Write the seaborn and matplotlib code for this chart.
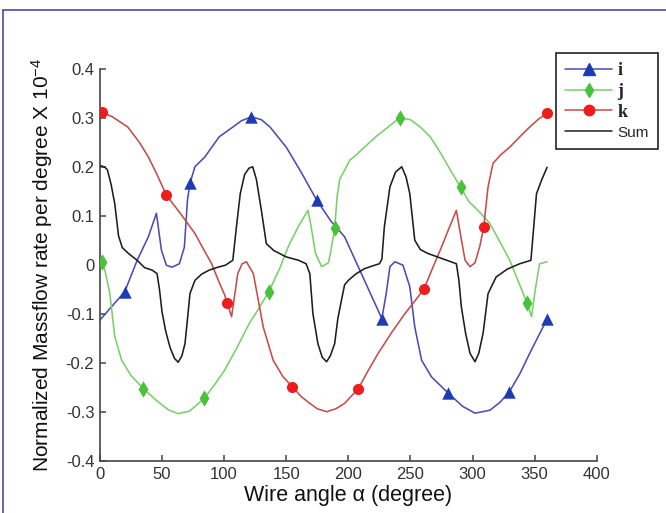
import matplotlib
matplotlib.use("Agg")
import matplotlib.pyplot as plt
from matplotlib.lines import Line2D
import pandas as pd
import seaborn as sns

# Normalized mass-flow rate per degree (x 1e-4) versus wire angle, for the
# three wire components i, j, k and their sum.
i_angle = [0, 10, 20, 30, 39, 45.5, 49.5, 53.5, 58, 64, 68, 70.5, 72.5, 76.5,
           84.5, 96, 107, 114, 122, 130, 137, 150, 162, 174.5, 186, 197, 210.5,
           220, 227, 230.5, 233.5, 237.5, 244, 249.5, 253.5, 259, 267, 280, 292,
           302, 314, 322, 329.5, 338, 346, 354, 360]
i_value = [-0.112, -0.083, -0.054, 0.010, 0.058, 0.106, 0.031, 0.000, -0.004,
           0.003, 0.037, 0.133, 0.167, 0.201, 0.221, 0.262, 0.282, 0.295, 0.303,
           0.297, 0.282, 0.241, 0.190, 0.133, 0.090, 0.058, -0.017, -0.070,
           -0.109, -0.058, -0.003, 0.007, 0.000, -0.044, -0.126, -0.194, -0.228,
           -0.260, -0.288, -0.302, -0.296, -0.280, -0.259, -0.222, -0.180,
           -0.140, -0.110]
i_marks = [20, 72.5, 122, 174.5, 227, 280, 329.5, 360]

j_angle = [0, 1.5, 4, 8, 12, 17.5, 25, 35, 45, 55, 63, 72, 84, 92, 100.5, 110,
           120, 128, 136, 145, 152, 160, 167.5, 170, 173.5, 178.5, 184, 186, 189,
           191, 193, 197, 201, 205, 213, 222, 232, 241.5, 250, 258, 266, 274,
           282, 290.5, 297, 302, 308, 314, 322, 330, 338, 344, 347.5, 350.5,
           354, 360]
j_value = [0.005, 0.007, -0.010, -0.058, -0.146, -0.194, -0.225, -0.252, -0.275,
           -0.295, -0.303, -0.298, -0.272, -0.245, -0.214, -0.170, -0.120,
           -0.088, -0.054, -0.005, 0.040, 0.080, 0.112, 0.080, 0.025, -0.003,
           0.005, 0.030, 0.075, 0.140, 0.175, 0.194, 0.214, 0.222, 0.241, 0.262,
           0.282, 0.301, 0.297, 0.282, 0.262, 0.230, 0.195, 0.159, 0.130, 0.118,
           0.102, 0.085, 0.048, 0.010, -0.040, -0.078, -0.105, -0.050, 0.003,
           0.007]
j_marks = [1.5, 35, 84, 136, 189, 241.5, 290.5, 344]

k_angle = [0, 2, 10, 22.5, 32, 39, 46, 53.5, 65, 76.5, 84, 90, 96, 100.5, 102.5,
           106, 111, 114.5, 118, 123.5, 127.5, 131.5, 139.5, 147.5, 155, 162,
           169, 175, 182.5, 190, 197, 208, 216, 224, 235, 245.5, 253, 261, 268,
           275, 281, 287, 290.5, 294, 298, 302, 306, 309, 312.5, 316.5, 323, 330,
           338, 346, 353, 360]
k_value = [0.312, 0.312, 0.303, 0.282, 0.250, 0.221, 0.185, 0.143, 0.105, 0.065,
           0.030, 0.003, -0.035, -0.061, -0.078, -0.105, -0.017, 0.003, 0.007,
           -0.017, -0.071, -0.126, -0.194, -0.228, -0.248, -0.268, -0.282,
           -0.293, -0.299, -0.293, -0.282, -0.252, -0.215, -0.180, -0.137,
           -0.099, -0.075, -0.048, -0.005, 0.037, 0.075, 0.112, 0.060, 0.010,
           -0.003, 0.005, 0.040, 0.078, 0.160, 0.208, 0.226, 0.241, 0.262, 0.282,
           0.298, 0.310]
k_marks = [2, 53.5, 102.5, 155, 208, 261, 309, 360]

sum_angle = [0, 4, 6, 9, 12, 15, 18, 23, 30, 36, 42, 46, 48, 50, 53, 56.5, 60,
             63, 66, 68.5, 70.5, 72.5, 76.5, 82, 88, 95, 101, 107, 110, 113,
             116.5, 120, 123, 126, 130, 134, 140, 150, 160, 166, 169, 171.5,
             175.5, 179, 182.5, 185.5, 189, 191.5, 194.5, 197, 200, 206, 213,
             220, 225, 227, 229, 233.5, 238, 243, 246.5, 249.5, 253.5, 258, 264,
             275, 287, 289, 291, 294.5, 298, 302, 305, 308.5, 312.5, 319, 328,
             338, 347, 349, 351.5, 355.5, 360]
sum_value = [0.204, 0.200, 0.195, 0.165, 0.125, 0.060, 0.036, 0.024, 0.010,
             -0.005, -0.010, -0.017, -0.050, -0.095, -0.135, -0.168, -0.190,
             -0.198, -0.185, -0.160, -0.110, -0.058, -0.031, -0.018, -0.010,
             -0.004, 0.000, 0.010, 0.080, 0.146, 0.185, 0.198, 0.201, 0.175,
             0.112, 0.044, 0.030, 0.017, 0.010, 0.003, -0.017, -0.099, -0.160,
             -0.188, -0.197, -0.185, -0.160, -0.110, -0.071, -0.040, -0.031,
             -0.018, -0.007, -0.001, 0.003, 0.012, 0.078, 0.160, 0.190, 0.201,
             0.180, 0.146, 0.051, 0.032, 0.024, 0.014, 0.003, -0.030, -0.085,
             -0.140, -0.180, -0.197, -0.180, -0.139, -0.058, -0.024, -0.008,
             0.003, 0.010, 0.070, 0.146, 0.173, 0.200]

x_ticks = [0, 50, 100, 150, 200, 250, 300, 350, 400]
y_ticks = [-0.4, -0.3, -0.2, -0.1, 0, 0.1, 0.2, 0.3, 0.4]
y_tick_labels = ["-0.4", "-0.3", "-0.2", "-0.1", "0", "0.1", "0.2", "0.3", "0.4"]

series_order = ["i", "j", "k", "Sum"]
line_colors = {"i": "#4b4cb6", "j": "#79d068", "k": "#c84b4b", "Sum": "#1e1e1e"}
mark_colors = {"i": "#1d3bb4", "j": "#47c23a", "k": "#ee1d1d"}
mark_shapes = {"i": "^", "j": "d", "k": "o"}
mark_sizes = {"i": 80, "j": 70, "k": 64}
legend_mark_sizes = {"i": 8.5, "j": 7, "k": 7.5}


def series_frame(name, angle, value, marks):
    d = pd.DataFrame({"angle": angle, "value": value, "series": name})
    d["marked"] = d["angle"].isin(marks)
    return d


df = pd.concat([
    series_frame("i", i_angle, i_value, i_marks),
    series_frame("j", j_angle, j_value, j_marks),
    series_frame("k", k_angle, k_value, k_marks),
    series_frame("Sum", sum_angle, sum_value, []),
], ignore_index=True)

sns.set_theme(style="ticks")
plt.rcParams["font.family"] = ["Liberation Sans", "DejaVu Sans"]
plt.rcParams["axes.unicode_minus"] = False
plt.rcParams["mathtext.fontset"] = "custom"
plt.rcParams["mathtext.rm"] = "Liberation Sans"
plt.rcParams["mathtext.default"] = "regular"

fig = plt.figure(figsize=(6.66, 5.13), dpi=100)
fig.patch.set_facecolor("white")
ax = fig.add_axes([0.150, 0.101, 0.746, 0.764])

sns.lineplot(data=df, x="angle", y="value", hue="series", hue_order=series_order,
             palette=line_colors, sort=False, estimator=None, legend=False,
             linewidth=1.15, ax=ax)

for name in ["i", "j", "k"]:
    sub = df[(df["series"] == name) & df["marked"]]
    sns.scatterplot(data=sub, x="angle", y="value", marker=mark_shapes[name],
                    color=mark_colors[name], s=mark_sizes[name], linewidth=0,
                    legend=False, zorder=4, ax=ax)

ax.set_xlim(0, 400)
ax.set_ylim(-0.4, 0.4)
ax.set_xticks(x_ticks)
ax.set_xticklabels([str(t) for t in x_ticks])
ax.set_yticks(y_ticks)
ax.set_yticklabels(y_tick_labels)

for lab in ax.get_xticklabels() + ax.get_yticklabels():
    lab.set_fontsize(12)
    lab.set_color("#333333")

ax.tick_params(direction="in", length=4, width=1.1, color="#444444")
ax.tick_params(axis="x", pad=4)
ax.tick_params(axis="y", pad=4)
sns.despine(ax=ax)
for side in ["left", "bottom"]:
    ax.spines[side].set_color("#444444")
    ax.spines[side].set_linewidth(1.2)

ax.set_xlabel("Wire angle α (degree)", fontsize=15.5, color="#111111", labelpad=2)
ax.set_ylabel("Normalized Massflow rate per degree X 10$^{-4}$", fontsize=15,
              color="#111111", labelpad=8)

handles = [
    Line2D([], [], color=line_colors[n], lw=1.1, marker=mark_shapes[n],
           markersize=legend_mark_sizes[n], markerfacecolor=mark_colors[n],
           markeredgecolor=mark_colors[n])
    for n in ["i", "j", "k"]
]
handles.append(Line2D([], [], color=line_colors["Sum"], lw=1.1))
leg = fig.legend(handles, series_order, loc="upper right",
                 bbox_to_anchor=(0.988, 0.897), bbox_transform=fig.transFigure,
                 prop={"family": ["Liberation Serif", "DejaVu Serif"],
                       "weight": "bold", "size": 13},
                 handlelength=2.6, handletextpad=0.3, labelspacing=0.22,
                 borderpad=0.5, borderaxespad=0, fancybox=False, framealpha=1)
leg.get_frame().set_edgecolor("#222222")
leg.get_frame().set_linewidth(1.2)
sum_text = leg.get_texts()[3]
sum_text.set_fontfamily(["Liberation Sans", "DejaVu Sans"])
sum_text.set_fontweight("normal")
sum_text.set_fontsize(11)

# page frame along the top and left edges
frame_color = "#5558b4"
fig.add_artist(Line2D([0.005, 0.005], [0.0, 0.981], transform=fig.transFigure,
                      color=frame_color, lw=1.3))
fig.add_artist(Line2D([0.005, 1.0], [0.981, 0.981], transform=fig.transFigure,
                      color=frame_color, lw=1.3))

fig.savefig("out.png", dpi=100)
